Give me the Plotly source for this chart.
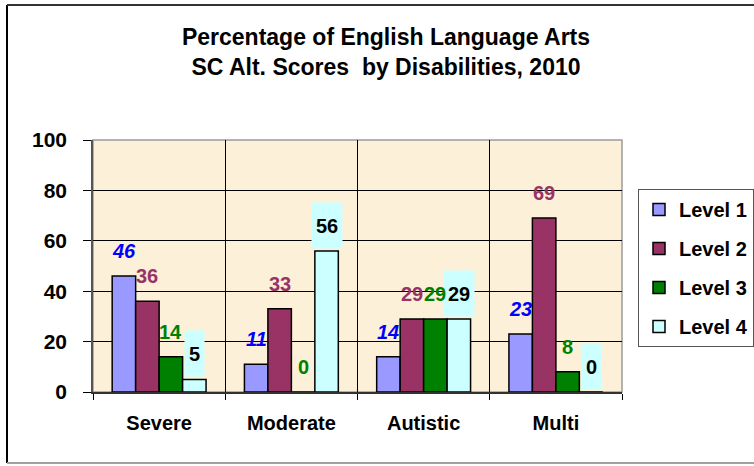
import plotly.graph_objects as go

# ---------------- data ----------------
categories = ["Severe", "Moderate", "Autistic", "Multi"]
series_names = ["Level 1", "Level 2", "Level 3", "Level 4"]
level1 = [46, 11, 14, 23]
level2 = [36, 33, 29, 69]
level3 = [14, 0, 29, 8]
level4 = [5, 56, 29, 0]
y_ticks = [0, 20, 40, 60, 80, 100]
title_lines = ["Percentage of English Language Arts", "SC Alt. Scores  by Disabilities, 2010"]

# ---------------- style ----------------
bar_colors = ["#9999FF", "#993366", "#008000", "#CCFFFF"]
label_colors = ["#0000FF", "#993366", "#008000", "#000000"]
label_italic = [True, False, False, False]
label_bg = [None, None, None, "#CCFFFF"]
FONT = "Liberation Sans, Arial, sans-serif"

W, H = 754, 466
M = dict(l=93, r=132, t=140, b=74, autoexpand=False)
BARGAP = 0.29
plot_w = W - M["l"] - M["r"]
plot_h = H - M["t"] - M["b"]
cat_w = plot_w / len(categories)
bar_w = cat_w * (1 - BARGAP) / len(series_names)

all_series = [level1, level2, level3, level4]

fig = go.Figure()
for name, vals, col in zip(series_names, all_series, bar_colors):
    fig.add_trace(go.Bar(
        name=name, x=categories, y=vals, legendgroup=name,
        marker=dict(color=col, line=dict(color="black", width=1.5)),
        hoverinfo="skip",
    ))

annotations = []
n = len(series_names)
# add in reverse order so the boxed Level 4 labels sit beneath the neighbouring labels
for i in reversed(range(n)):
    vals = all_series[i]
    for cat, v in zip(categories, vals):
        annotations.append(dict(
            x=cat, y=v, xref="x", yref="y",
            xshift=(i - (n - 1) / 2) * bar_w, yshift=2,
            xanchor="center", yanchor="bottom",
            text=str(v), showarrow=False,
            font=dict(family=FONT, size=20, color=label_colors[i], weight="bold",
                      style="italic" if label_italic[i] else "normal"),
            bgcolor=label_bg[i] if label_bg[i] else "rgba(0,0,0,0)",
            height=37, borderpad=4, valign="middle",
        ))

# outer frame of the chart (paper coords relative to plot area)
def px_to_paper_x(px):
    return (px - M["l"]) / plot_w

def px_to_paper_y(py):
    return (H - M["b"] - py) / plot_h

shapes = [
    dict(type="rect", xref="paper", yref="paper", x0=0, x1=1, y0=0, y1=1,
         line=dict(color="#9a9a9a", width=1.5), layer="between"),
    dict(type="line", xref="paper", yref="paper",
         x0=px_to_paper_x(7), x1=px_to_paper_x(7), y0=px_to_paper_y(463), y1=px_to_paper_y(5),
         line=dict(color="black", width=2)),
    dict(type="line", xref="paper", yref="paper",
         x0=px_to_paper_x(7), x1=px_to_paper_x(760), y0=px_to_paper_y(5), y1=px_to_paper_y(5),
         line=dict(color="#333333", width=2)),
    dict(type="line", xref="paper", yref="paper",
         x0=px_to_paper_x(7), x1=px_to_paper_x(760), y0=px_to_paper_y(463), y1=px_to_paper_y(463),
         line=dict(color="#a0a0a0", width=2)),
]

fig.update_layout(
    width=W, height=H,
    margin=M,
    paper_bgcolor="white",
    plot_bgcolor="#FCF0D8",
    barmode="group", bargap=BARGAP, bargroupgap=0,
    font=dict(family=FONT, color="black"),
    title=dict(
        text="<br>".join(title_lines),
        font=dict(family=FONT, size=23, color="black", weight="bold"),
        x=386 / W, xref="container", xanchor="center",
        y=1 - 45 / H, yref="container", yanchor="middle",
    ),
    xaxis=dict(
        type="category", tickson="boundaries",
        showgrid=True, gridcolor="black", gridwidth=1,
        ticks="outside", ticklen=6, tickcolor="black", tickwidth=1,
        showline=True, linecolor="#333333", linewidth=2,
        tickfont=dict(family=FONT, size=20, color="black", weight="bold"),
        ticklabelstandoff=12, automargin=False,
        fixedrange=True,
    ),
    yaxis=dict(
        range=[0, 100], tickvals=y_ticks,
        showgrid=True, gridcolor="black", gridwidth=1,
        ticks="outside", ticklen=8, tickcolor="black", tickwidth=1,
        showline=True, linecolor="#555555", linewidth=1.5,
        zeroline=False,
        tickfont=dict(family=FONT, size=21, color="black", weight="bold"),
        ticklabelstandoff=12, automargin=False,
        fixedrange=True,
    ),
    legend=dict(
        x=px_to_paper_x(638), y=px_to_paper_y(189), xanchor="left", yanchor="top",
        bgcolor="white", bordercolor="#555555", borderwidth=1,
        font=dict(family=FONT, size=20, color="black", weight="bold"),
        traceorder="grouped", tracegroupgap=10, itemwidth=30,
    ),
    annotations=annotations,
    shapes=shapes,
    showlegend=True,
)

fig.write_html(
    "out.html",
    config={"displayModeBar": False},
    post_script="document.body.style.margin='0';document.body.style.overflow='hidden';",
)
